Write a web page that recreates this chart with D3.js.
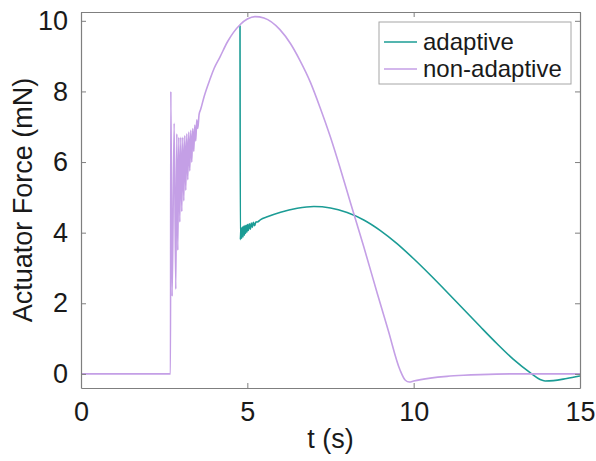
<!doctype html>
<head>
    <title>Actuator Force</title>
    <style>
        body { margin: 0; background: #fff; }
        text { font-family: "Liberation Sans", Arial, sans-serif; fill: #1a1a1a; }
    </style>
</head>
<body>
    <div id="my_dataviz"></div>

    <script src="https://d3js.org/d3.v7.min.js"></script>
    <script>
        // values
        var seriesNames = ["adaptive", "non-adaptive"];
        var seriesColors = ["#1b9c95", "#c49fe6"];

        var xTicks = [0, 5, 10, 15];
        var yTicks = [0, 2, 4, 6, 8, 10];

        // non-adaptive: time (s) and force (mN)
        var nonAdaptiveT = [0, 2.69, 2.70, 2.74, 2.80, 2.85, 2.88, 2.91, 2.94, 2.97, 3.00, 3.03,
            3.06, 3.09, 3.12, 3.15, 3.18, 3.21, 3.24, 3.27, 3.30, 3.33, 3.36, 3.39, 3.42,
            3.45, 3.48, 3.51, 3.55, 3.60, 3.70, 3.88, 4.00, 4.18, 4.40, 4.78, 5.00, 5.23,
            5.50, 5.98, 6.30, 6.58, 6.90, 7.18, 7.50, 7.78, 8.10, 8.50, 8.90, 9.23, 9.59,
            9.75, 9.87, 10.0, 10.5, 11.0, 11.5, 12.0, 13.0, 15.0];
        var nonAdaptiveF = [0, 0, 8.0, 2.2, 7.1, 2.4, 6.8, 3.5, 6.7, 4.3, 6.7, 4.6,
            6.7, 4.9, 6.75, 5.2, 6.8, 5.5, 6.85, 5.75, 6.9, 6.0, 6.95, 6.3, 7.05,
            6.6, 7.2, 6.95, 7.35, 7.5, 7.85, 8.35, 8.65, 8.98, 9.4, 9.89, 10.05, 10.12,
            10.08, 9.75, 9.35, 8.88, 8.25, 7.56, 6.7, 5.86, 4.85, 3.6, 2.3, 1.25, 0.11,
            -0.18, -0.23, -0.2, -0.12, -0.07, -0.04, -0.02, 0, 0];

        // adaptive: time (s) and force (mN); before 4.78 s it lies under the non-adaptive line
        var adaptiveT = [4.78, 4.79, 4.81, 4.83, 4.85, 4.87, 4.89, 4.91, 4.93, 4.95, 4.97, 4.99,
            5.01, 5.03, 5.06, 5.09, 5.12, 5.15, 5.18, 5.22, 5.26, 5.30, 5.40, 5.60, 6.00,
            6.50, 7.00, 7.50, 8.00, 8.50, 9.00, 9.50, 10.0, 10.5, 11.0, 11.5, 12.0, 12.5,
            13.0, 13.55, 13.8, 13.95, 14.2, 14.6, 15.0];
        var adaptiveF = [9.87, 3.8, 4.14, 3.84, 4.16, 3.88, 4.18, 3.93, 4.2, 3.98, 4.21, 4.02,
            4.23, 4.06, 4.25, 4.1, 4.27, 4.15, 4.29, 4.2, 4.31, 4.3, 4.37, 4.45, 4.58,
            4.69, 4.74, 4.7, 4.57, 4.36, 4.06, 3.69, 3.26, 2.8, 2.32, 1.83, 1.34, 0.86,
            0.41, 0, -0.16, -0.2, -0.19, -0.13, -0.06];

        var margin = {top: 12, right: 16, bottom: 73, left: 81},
            width = 596 - margin.left - margin.right,
            height = 461 - margin.top - margin.bottom;

        var svg = d3.select("#my_dataviz")
            .append("svg")
                .attr("width", 596)
                .attr("height", 461)
            .append("g")
                .attr("transform", "translate(" + margin.left + "," + margin.top + ")");

        var x = d3.scaleLinear().domain([0, 15]).range([0, width]);
        var y = d3.scaleLinear().domain([-0.4, 10.25]).range([height, 0]);

        svg.append("clipPath").attr("id", "plotclip")
            .append("rect").attr("width", width).attr("height", height);

        var line = d3.line()
            .x(function (d) { return x(d[0]); })
            .y(function (d) { return y(d[1]); })
            .curve(d3.curveMonotoneX);

        var adaptive = adaptiveT.map(function (t, i) { return [t, adaptiveF[i]]; });
        var nonAdaptive = nonAdaptiveT.map(function (t, i) { return [t, nonAdaptiveF[i]]; });

        var plot = svg.append("g").attr("clip-path", "url(#plotclip)");
        plot.append("path")
            .datum(adaptive)
            .attr("fill", "none")
            .attr("stroke", seriesColors[0])
            .attr("stroke-width", 1.6)
            .attr("d", line);
        plot.append("path")
            .datum(nonAdaptive)
            .attr("fill", "none")
            .attr("stroke", seriesColors[1])
            .attr("stroke-width", 1.6)
            .attr("d", line);

        // axes, ticks pointing inward on all four sides
        var axisColor = "#7f7f7f";
        function styleAxis(g) {
            g.select(".domain").attr("stroke", axisColor);
            g.selectAll(".tick line").attr("stroke", axisColor);
            g.selectAll(".tick text").style("font-size", "27px").attr("fill", "#1a1a1a");
        }

        svg.append("g")
            .attr("transform", "translate(0," + height + ")")
            .call(d3.axisBottom(x).tickValues(xTicks).tickSizeInner(-5).tickSizeOuter(0).tickPadding(14))
            .call(styleAxis);
        svg.append("g")
            .call(d3.axisTop(x).tickValues(xTicks).tickSizeInner(-5).tickSizeOuter(0).tickFormat(""))
            .call(styleAxis);
        svg.append("g")
            .call(d3.axisLeft(y).tickValues(yTicks).tickSizeInner(-5).tickSizeOuter(0).tickPadding(13))
            .call(styleAxis);
        svg.append("g")
            .attr("transform", "translate(" + width + ",0)")
            .call(d3.axisRight(y).tickValues(yTicks).tickSizeInner(-5).tickSizeOuter(0).tickFormat(""))
            .call(styleAxis);

        svg.selectAll(".domain").attr("stroke-width", 1.2);

        // axis titles
        svg.append("text")
            .attr("x", width / 2)
            .attr("y", height + 60)
            .attr("text-anchor", "middle")
            .style("font-size", "27px")
            .text("t (s)");
        svg.append("text")
            .attr("transform", "translate(" + (-49) + "," + (height / 2) + ") rotate(-90)")
            .attr("text-anchor", "middle")
            .style("font-size", "27px")
            .text("Actuator Force (mN)");

        // legend
        var legend = svg.append("g").attr("transform", "translate(298,10)");
        legend.append("rect")
            .attr("width", 192).attr("height", 62)
            .attr("fill", "#fff").attr("stroke", "#a6a6a6");
        seriesNames.forEach(function (name, i) {
            var row = legend.append("g").attr("transform", "translate(0," + (20 + i * 27) + ")");
            row.append("line")
                .attr("x1", 5).attr("x2", 38)
                .attr("stroke", seriesColors[i]).attr("stroke-width", 1.6);
            row.append("text")
                .attr("x", 44).attr("y", 8)
                .style("font-size", "24px")
                .text(name);
        });
    </script>
</body>
</html>
